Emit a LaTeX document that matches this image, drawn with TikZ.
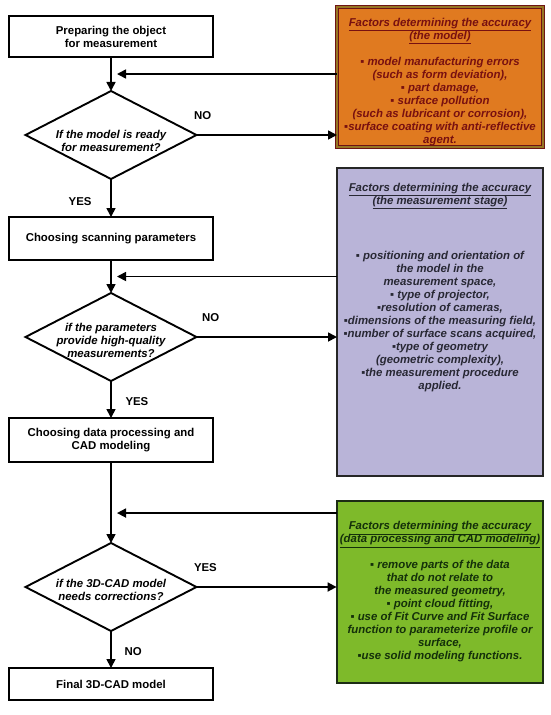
\documentclass[tikz,border=0pt]{standalone}
\usepackage{fontspec}
\setmainfont{Liberation Sans}
\usepackage{tikz}
\usetikzlibrary{positioning, shapes, arrows.meta, calc}
\definecolor{orangefill}{RGB}{224,122,32}
\definecolor{orangeline}{RGB}{110,20,20}
\definecolor{orangeband}{RGB}{150,118,36}
\definecolor{orangetext}{RGB}{120,16,16}
\definecolor{purplefill}{RGB}{185,180,216}
\definecolor{purpletext}{RGB}{40,40,52}
\definecolor{greenfill}{RGB}{126,186,42}
\definecolor{greenline}{RGB}{28,44,20}
\definecolor{greentext}{RGB}{20,48,10}
\newcommand{\flowfont}{\fontsize{11.4}{13}\selectfont\bfseries}
\tikzset{%
  proc/.style={draw, line width=1.9pt, outer sep=0pt, minimum width=204pt, align=center, font=\flowfont},
  decision/.style={draw, shape=diamond, line width=1.9pt, outer sep=0pt, inner sep=0pt, minimum width=171pt, minimum height=88pt},
  question/.style={align=center, font=\flowfont\itshape},
  tag/.style={font=\flowfont},
  factor/.style={outer sep=0pt, minimum width=206pt, line width=1.9pt, align=center, font=\flowfont\itshape},
  ftitle/.style={inner sep=0pt, align=center, font=\flowfont\itshape},
  flow/.style={-{Triangle[length=9pt, width=9pt]}, line width=1.7pt}
}

\begin{document}
\begin{tikzpicture}[x=1pt, y=-1pt]
\useasboundingbox (0,0) rectangle (550,715);

% main column
\node[proc, minimum height=41pt] (prep) at (111,36.5) {Preparing the object\\for measurement};
\node[decision, below=34pt of prep] (q1) {};
\node[proc, minimum height=43pt, below=38pt of q1] (scan) {Choosing scanning parameters};
\node[decision, below=33pt of scan] (q2) {};
\node[proc, minimum height=44pt, below=37pt of q2] (dproc) {Choosing data processing and\\CAD modeling};
\node[decision, below=81pt of dproc] (q3) {};
\node[proc, minimum height=32pt, below=37pt of q3] (final) {Final 3D-CAD model};

\node[question, yshift=-6pt] (q1t) at (q1) {If the model is ready\\for measurement?};
\node[question, yshift=-3pt] (q2t) at (q2) {if the parameters\\provide high-quality\\measurements?};
\node[question, yshift=-3pt] (q3t) at (q3) {if the 3D-CAD model\\needs corrections?};

% factor boxes
\node[factor, draw=orangeline, double=orangeband, double distance=2pt, line width=0.8pt,
      fill=orangefill, minimum height=140pt] (ora) at (440,77) {};
\node[ftitle, text=orangetext] (oratext) at ([yshift=-5pt]ora.center)
  {\underline{Factors determining the accuracy}\\\underline{(the model)}\\[13pt]
   ▪ model manufacturing errors\\(such as form deviation),\\▪ part damage,\\▪ surface pollution\\
   (such as lubricant or corrosion),\\▪surface coating with anti-reflective\\agent.};

\node[factor, draw=black!85, fill=purplefill, text=purpletext, minimum height=308pt] (pur) at (440,322)
  {▪ positioning and orientation of\\the model in the\\measurement space,\\▪ type of projector,\\
   ▪resolution of cameras,\\▪dimensions of the measuring field,\\▪number of surface scans acquired,\\
   ▪type of geometry\\(geometric complexity),\\▪the measurement procedure\\applied.};
\node[ftitle, text=purpletext, below=15pt of pur.north] (purtitle)
  {\underline{Factors determining the accuracy}\\\underline{(the measurement stage)}};

\node[factor, draw=greenline, fill=greenfill, text=greentext, minimum height=182pt] (grn) at (440,592)
  {\underline{Factors determining the accuracy}\\\underline{(data processing and CAD modeling)}\\[13pt]
   ▪ remove parts of the data\\that do not relate to\\the measured geometry,\\▪ point cloud fitting,\\
   ▪ use of Fit Curve and Fit Surface\\function to parameterize profile or\\surface,\\▪use solid modeling functions.};

% flow
\draw[flow] (prep) -- (q1);
\draw[flow] (q1) -- (scan);
\draw[flow] (scan) -- (q2);
\draw[flow] (q2) -- (dproc);
\draw[flow] (dproc) -- (q3);
\draw[flow] (q3) -- (final);

% back from the factor boxes
\coordinate (in1) at ($(prep.south)!0.5!(q1.north)$);
\coordinate (in2) at ($(scan.south)!0.5!(q2.north)$);
\coordinate (in3) at ($(dproc.south)!0.63!(q3.north)$);
\draw[flow] (ora.west |- in1) -- ([xshift=6pt]in1);
\draw[flow] (pur.west |- in2) -- ([xshift=6pt]in2);
\draw[flow] (grn.west |- in3) -- ([xshift=6pt]in3);

% out to the factor boxes
\draw[flow] (q1.east) -- (q1.east -| ora.west);
\draw[flow] (q2.east) -- (q2.east -| pur.west);
\draw[flow] (q3.east) -- (q3.east -| grn.west);

\node[tag, above right=11.5pt and -6pt of q1.east] (no1) {NO};
\node[tag, below left=14.7pt and 16pt of q1.south] (yes1) {YES};
\node[tag, above right=11.7pt and 2pt of q2.east] (no2) {NO};
\node[tag, below right=12.7pt and 11pt of q2.south] (yes2) {YES};
\node[tag, above right=11.7pt and -6pt of q3.east] (yes3) {YES};
\node[tag, below right=12.7pt and 10pt of q3.south] (no3) {NO};

\end{tikzpicture}
\end{document}
